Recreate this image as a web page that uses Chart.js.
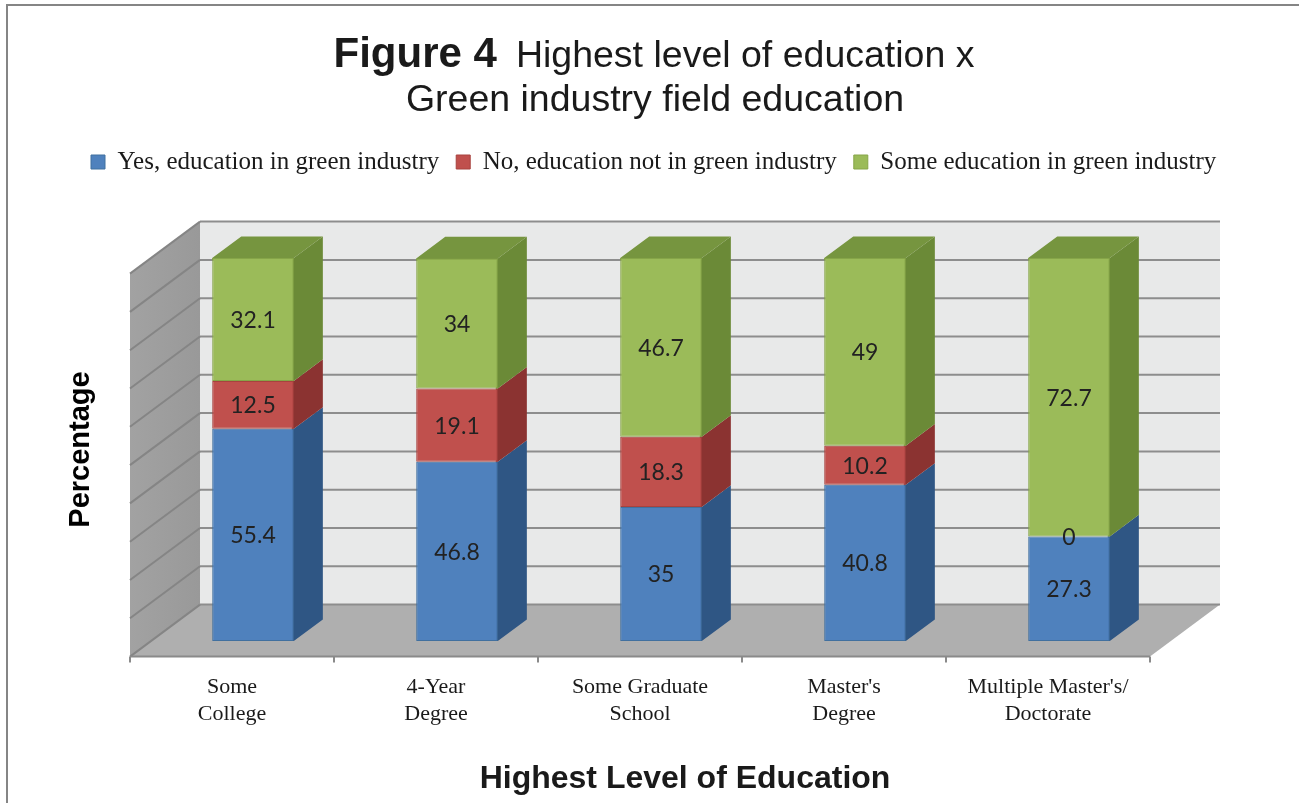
<!DOCTYPE html>
<html>
<head>
<meta charset="utf-8">
<title>Highest level of education x Green industry field education</title>
<script src="https://cdn.jsdelivr.net/npm/chart.js@4.4.1/dist/chart.umd.min.js"></script>
<style>
  html, body { margin: 0; padding: 0; background: #ffffff; }
  #wrap { width: 1299px; height: 803px; }
  canvas { display: block; }
</style>
</head>
<body>
<div id="wrap"><canvas id="chart" width="1299" height="803"></canvas></div>
<script>
// ---- data ----
const categories = [
  ['Some', 'College'],
  ['4-Year', 'Degree'],
  ['Some Graduate', 'School'],
  ["Master's", 'Degree'],
  ["Multiple Master's/", 'Doctorate']
];
const seriesNames = [
  'Yes, education in green industry',
  'No, education not in green industry',
  'Some education in green industry'
];
const yesValues  = [55.4, 46.8, 35, 40.8, 27.3];
const noValues   = [12.5, 19.1, 18.3, 10.2, 0];
const someValues = [32.1, 34, 46.7, 49, 72.7];
const gridValues = [0, 10, 20, 30, 40, 50, 60, 70, 80, 90, 100];

const titleBold = 'Figure 4';
const titleRest = 'Highest level of education x';
const titleLine2 = 'Green industry field education';
const xTitle = 'Highest Level of Education';
const yTitle = 'Percentage';

// ---- styles ----
const palette = [
  { front: '#4f81bd', edge: '#41709f', side: '#2f5684', top: '#3f6ea6' },
  { front: '#c0504d', edge: '#a8423f', side: '#8b3331', top: '#a54340' },
  { front: '#9bbb59', edge: '#86a548', side: '#6b8a37', top: '#76953f' }
];

// Oblique depth vector of the floor, and where the planes sit along it
// (0 = plane of the bar fronts).
const DX = 70, DY = -52;
const T_FRONT = -0.3;
const T_BARBACK = 0.415;
const T_WALL = 0.7;

function poly(ctx, pts, fill) {
  ctx.beginPath();
  ctx.moveTo(pts[0][0], pts[0][1]);
  for (let i = 1; i < pts.length; i++) ctx.lineTo(pts[i][0], pts[i][1]);
  ctx.closePath();
  ctx.fillStyle = fill;
  ctx.fill();
}
function seg(ctx, x1, y1, x2, y2) {
  ctx.beginPath();
  ctx.moveTo(x1, y1);
  ctx.lineTo(x2, y2);
  ctx.stroke();
}

// Walls, floor, gridlines, front axis and the depth faces of the bars
const scene3d = {
  id: 'scene3d',
  beforeDraw(chart) {
    const { ctx } = chart;
    ctx.save();
    ctx.strokeStyle = '#858585';
    ctx.lineWidth = 2;
    ctx.beginPath();
    ctx.moveTo(7, 803);
    ctx.lineTo(7, 5);
    ctx.lineTo(1299, 5);
    ctx.stroke();
    ctx.restore();
  },
  beforeDatasetsDraw(chart) {
    const { ctx, chartArea: a, scales: { x: xs, y: ys } } = chart;
    const fdx = DX * T_FRONT, fdy = DY * T_FRONT;
    const wdx = DX * T_WALL, wdy = DY * T_WALL;
    const y0 = ys.getPixelForValue(0), y100 = ys.getPixelForValue(100);
    const fl = a.left + fdx, fr = a.right + fdx;
    const bl = a.left + wdx, br = a.right + wdx;

    ctx.save();
    // back wall
    ctx.fillStyle = '#e8e9e9';
    ctx.fillRect(bl, y100 + wdy, br - bl, y0 - y100);
    // side wall
    const g = ctx.createLinearGradient(fl, 0, bl, 0);
    g.addColorStop(0, '#a2a2a2');
    g.addColorStop(1, '#999999');
    poly(ctx, [[fl, y100 + fdy], [bl, y100 + wdy], [bl, y0 + wdy], [fl, y0 + fdy]], g);
    // floor
    poly(ctx, [[fl, y0 + fdy], [bl, y0 + wdy], [br, y0 + wdy], [fr, y0 + fdy]], '#afafaf');

    // gridlines on the back wall and the side wall
    ctx.lineWidth = 2;
    gridValues.forEach(v => {
      const py = ys.getPixelForValue(v);
      ctx.strokeStyle = '#8d8d8d';
      seg(ctx, bl, py + wdy, br, py + wdy);
      ctx.strokeStyle = '#858585';
      seg(ctx, fl, py + fdy, bl, py + wdy);
    });

    // front axis line with tick marks at category boundaries
    const step = xs.getPixelForValue(1) - xs.getPixelForValue(0);
    ctx.strokeStyle = '#8a8a8a';
    ctx.lineWidth = 2;
    seg(ctx, fl, y0 + fdy, fr, y0 + fdy);
    for (let i = 0; i <= categories.length; i++) {
      const bx = xs.getPixelForValue(0) - step / 2 + i * step + fdx;
      seg(ctx, bx, y0 + fdy, bx, y0 + fdy + 6);
    }

    // depth faces of the bars (slightly tucked under the front faces)
    const bdx = DX * T_BARBACK, bdy = DY * T_BARBACK;
    const nSets = chart.data.datasets.length;
    for (let i = 0; i < categories.length; i++) {
      let topSet = -1;
      for (let d = 0; d < nSets; d++) {
        const el = chart.getDatasetMeta(d).data[i];
        const r = el.x + el.width / 2;
        const t = Math.min(el.y, el.base), b = Math.max(el.y, el.base);
        if (b - t > 0.01) topSet = d;
        poly(ctx, [[r - 2, b], [r, b], [r + bdx, b + bdy], [r + bdx, t + bdy], [r, t], [r - 2, t]], palette[d].side);
      }
      if (topSet >= 0) {
        const el = chart.getDatasetMeta(topSet).data[i];
        const l = el.x - el.width / 2, r = el.x + el.width / 2;
        const t = Math.min(el.y, el.base);
        poly(ctx, [[l, t + 2], [r, t + 2], [r, t], [r + bdx, t + bdy], [l + bdx, t + bdy], [l, t]], palette[topSet].top);
      }
    }
    ctx.restore();
  },
  afterDatasetsDraw(chart) {
    // value labels in the middle of each front face
    const { ctx } = chart;
    ctx.save();
    ctx.font = '23px Lato';
    ctx.fillStyle = '#222222';
    ctx.textAlign = 'center';
    ctx.textBaseline = 'middle';
    chart.data.datasets.forEach((ds, d) => {
      chart.getDatasetMeta(d).data.forEach((el, i) => {
        ctx.fillText(String(ds.data[i]), el.x, (el.y + el.base) / 2 + 1);
      });
    });
    ctx.restore();
  },
  afterDraw(chart) {
    const { ctx } = chart;
    ctx.save();
    ctx.fillStyle = '#1a1a1a';
    ctx.textBaseline = 'alphabetic';
    // two-line heading, bold figure number
    const fB = 'bold 42px "Liberation Sans", Arial, sans-serif';
    const fR = '37.5px "Liberation Sans", Arial, sans-serif';
    ctx.font = fB; const w1 = ctx.measureText(titleBold).width;
    ctx.font = fR; const w2 = ctx.measureText(titleRest).width;
    const gap = 19;
    const sx = 654 - (w1 + gap + w2) / 2;
    ctx.textAlign = 'left';
    ctx.font = fB; ctx.fillText(titleBold, sx, 67);
    ctx.font = fR; ctx.fillText(titleRest, sx + w1 + gap, 67);
    ctx.textAlign = 'center';
    ctx.fillText(titleLine2, 655, 111);
    // category axis title
    ctx.font = 'bold 32px "Liberation Sans", Arial, sans-serif';
    ctx.fillText(xTitle, 685, 788);
    ctx.restore();
  },
  afterUpdate(chart) {
    // place the legend row
    const lg = chart.legend;
    if (!lg || !lg.lineWidths) return;
    const p = lg.options.labels.padding;
    const curStart = (lg.left + p + lg.right - lg.lineWidths[0]) / 2;
    const shiftX = 91 - curStart;
    lg.left += shiftX; lg.right += shiftX;
    const itemH = Math.max(lg.options.labels.font.size || 25, lg.options.labels.boxHeight || 0);
    const shiftY = 162 - (lg.top + p + itemH / 2);
    lg.top += shiftY; lg.bottom += shiftY;
  }
};

function build() {
  const datasets = [yesValues, noValues, someValues].map((vals, d) => ({
    label: seriesNames[d],
    data: vals,
    backgroundColor: palette[d].front,
    borderColor: palette[d].edge,
    borderWidth: 1,
    borderSkipped: false,
    barPercentage: 0.4,
    categoryPercentage: 1.0
  }));

  new Chart(document.getElementById('chart'), {
    type: 'bar',
    data: { labels: categories, datasets },
    options: {
      responsive: false,
      animation: false,
      devicePixelRatio: 1,
      layout: { padding: { top: 206, left: 0, right: 128, bottom: 0 } },
      plugins: {
        legend: {
          position: 'top',
          labels: {
            font: { family: '"Liberation Serif", "Times New Roman", serif', size: 25 },
            color: '#1a1a1a',
            boxWidth: 14,
            boxHeight: 14,
            padding: 17
          }
        },
        title: { display: false },
        tooltip: { enabled: false }
      },
      scales: {
        x: {
          stacked: true,
          grid: { display: false },
          border: { display: false },
          ticks: {
            font: { family: '"Liberation Serif", "Times New Roman", serif', size: 22, lineHeight: 1.23 },
            color: '#1a1a1a',
            padding: 25,
            labelOffset: -21,
            maxRotation: 0,
            autoSkip: false
          },
          afterFit(s) { s.height = 162; }
        },
        y: {
          stacked: true,
          min: 0,
          max: 100,
          grid: { display: false },
          border: { display: false },
          ticks: { display: false, stepSize: 10 },
          title: {
            display: true,
            text: yTitle,
            color: '#000000',
            font: { family: '"Liberation Sans", Arial, sans-serif', size: 29, weight: 'bold' },
            padding: { top: 64, bottom: 0 }
          },
          afterFit(s) { s.width = 151; }
        }
      }
    },
    plugins: [scene3d]
  });
}

const fontsToLoad = ['23px Lato', '25px "Liberation Serif"', '37px "Liberation Sans"', 'bold 37px "Liberation Sans"'];
if (document.fonts && document.fonts.load) {
  Promise.all(fontsToLoad.map(f => document.fonts.load(f))).then(build, build);
} else {
  build();
}
</script>
</body>
</html>
